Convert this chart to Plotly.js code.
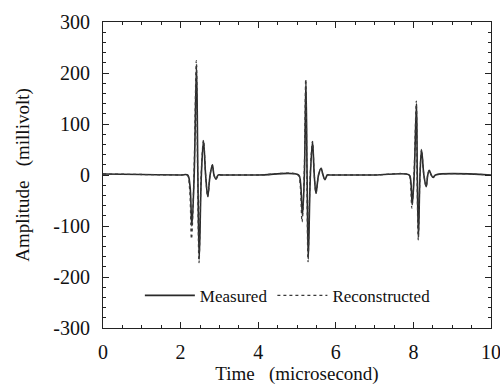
<!DOCTYPE html>
<html>
<head>
<meta charset="utf-8">
<script src="https://cdn.plot.ly/plotly-3.0.1.min.js"></script>
</head>
<body style="margin:0;padding:0;background:#fff">
<div id="chart" style="width:500px;height:386px"></div>
<script>
// Measured signal (solid)
const measuredTime = [0, 1.0, 2.0, 2.18, 2.24, 2.29, 2.35, 2.41, 2.445, 2.48, 2.535, 2.59, 2.645, 2.70, 2.76, 2.82, 2.86, 2.91, 2.97, 3.05, 4.0, 5.04, 5.09, 5.14, 5.19, 5.23, 5.26, 5.29, 5.345, 5.40, 5.445, 5.49, 5.555, 5.62, 5.67, 5.72, 5.78, 5.85, 7.0, 7.89, 7.93, 7.97, 8.02, 8.08, 8.10, 8.13, 8.17, 8.21, 8.27, 8.33, 8.37, 8.41, 8.46, 8.51, 8.57, 10];
const measuredAmp  = [2, 1, 0, 0, -20, -100, 0, 215, 0, -165, 0, 67, 0, -42, 0, 20, 0, -8, 0, 0, 0, 0, -15, -80, 0, 183, 0, -165, 0, 65, 0, -36, 0, 13, 0, -9, 0, 0, 0, 0, -10, -58, 0, 140, 0, -122, 0, 49, 0, -23, 0, 9, 0, -5, 0, 0];
// Reconstructed signal (dotted)
const reconTime = [0, 1.0, 2.0, 2.17, 2.23, 2.28, 2.345, 2.405, 2.44, 2.475, 2.53, 2.59, 2.645, 2.70, 2.76, 2.82, 2.86, 2.91, 2.97, 3.05, 4.0, 5.03, 5.08, 5.13, 5.185, 5.225, 5.255, 5.285, 5.34, 5.40, 5.445, 5.49, 5.555, 5.62, 5.67, 5.72, 5.78, 5.85, 7.0, 7.88, 7.92, 7.96, 8.015, 8.075, 8.095, 8.125, 8.17, 8.21, 8.27, 8.33, 8.37, 8.41, 8.46, 8.51, 8.57, 10];
const reconAmp  = [2, 1, 0, 0, -25, -125, 0, 224, 0, -172, 0, 68, 0, -43, 0, 20, 0, -8, 0, 0, 0, 0, -18, -92, 0, 188, 0, -170, 0, 66, 0, -36, 0, 13, 0, -9, 0, 0, 0, 0, -12, -65, 0, 145, 0, -127, 0, 50, 0, -23, 0, 9, 0, -5, 0, 0];

const xTickVals = [0, 2, 4, 6, 8, 10];
const xTickText = ['0', '2', '4', '6', '8', '10'];
const yTickVals = [-300, -200, -100, 0, 100, 200, 300];
const yTickText = ['-300', '-200', '-100', '0', '100', '200', '300'];

const fam = 'Liberation Serif';
const ink = '#111';

const traces = [
  {x: measuredTime, y: measuredAmp, type: 'scatter', mode: 'lines', name: 'Measured',
   line: {color: '#2a2a2a', width: 1.6, shape: 'spline', smoothing: 1}},
  {x: reconTime, y: reconAmp, type: 'scatter', mode: 'lines', name: 'Reconstructed',
   line: {color: '#3a3a3a', width: 1.3, dash: 'dot', shape: 'spline', smoothing: 1}},
  // carrier for the mirrored (top/right) axes with minor ticks
  {x: measuredTime, y: measuredAmp, xaxis: 'x2', yaxis: 'y2', type: 'scatter', mode: 'lines',
   line: {color: 'rgba(0,0,0,0)', width: 0}, showlegend: false, hoverinfo: 'skip'}
];

const axisCommon = {
  showline: true, linecolor: '#222', linewidth: 1,
  ticks: 'inside', ticklen: 6, tickcolor: '#222', showgrid: false, zeroline: false,
  tickfont: {family: fam, size: 20, color: ink}, ticklabeloverflow: 'allow'
};

const layout = {
  width: 500, height: 386,
  margin: {l: 103, r: 9, t: 22, b: 58},
  paper_bgcolor: '#fff', plot_bgcolor: '#fff',
  font: {family: fam, color: ink},
  showlegend: true,
  legend: {orientation: 'h', x: 0.095, y: 0.105, xanchor: 'left', yanchor: 'middle',
           bgcolor: 'rgba(0,0,0,0)', font: {family: fam, size: 17, color: ink},
           itemwidth: 50, tracegroupgap: 0},
  xaxis: Object.assign({}, axisCommon, {
    range: [0, 10], tickvals: xTickVals, ticktext: xTickText, ticklabelstandoff: 6,
    minor: {ticks: 'inside', dtick: 0.5, ticklen: 3, tickcolor: '#222'},
    title: {text: 'Time   (microsecond)', font: {family: fam, size: 19, color: ink}, standoff: 0}
  }),
  yaxis: Object.assign({}, axisCommon, {
    range: [-300, 300], tickvals: yTickVals, ticktext: yTickText, ticklabelstandoff: 8,
    minor: {ticks: 'inside', dtick: 20, ticklen: 3, tickcolor: '#222'},
    title: {text: 'Amplitude   (millivolt)', font: {family: fam, size: 19, color: ink}, standoff: 18}
  }),
  xaxis2: {overlaying: 'x', side: 'top', matches: 'x', range: [0, 10], tickvals: xTickVals,
    showticklabels: false, showline: true, linecolor: '#222', linewidth: 1, ticks: 'inside', ticklen: 6, tickcolor: '#222',
    showgrid: false, zeroline: false, minor: {ticks: 'inside', dtick: 0.5, ticklen: 3, tickcolor: '#222'}},
  yaxis2: {overlaying: 'y', side: 'right', matches: 'y', range: [-300, 300], tickvals: yTickVals,
    showticklabels: false, showline: true, linecolor: '#222', linewidth: 1, ticks: 'inside', ticklen: 6, tickcolor: '#222',
    showgrid: false, zeroline: false, minor: {ticks: 'inside', dtick: 20, ticklen: 3, tickcolor: '#222'}}
};

function forceSerif() {
  document.querySelectorAll('#chart text').forEach(function (t) {
    t.setAttribute('font-family', fam);
    t.style.setProperty('font-family', "'Liberation Serif'", 'important');
  });
}

Plotly.newPlot('chart', traces, layout, {displayModeBar: false}).then(function (gd) {
  forceSerif();
  gd.on('plotly_afterplot', forceSerif);
});
</script>
</body>
</html>
